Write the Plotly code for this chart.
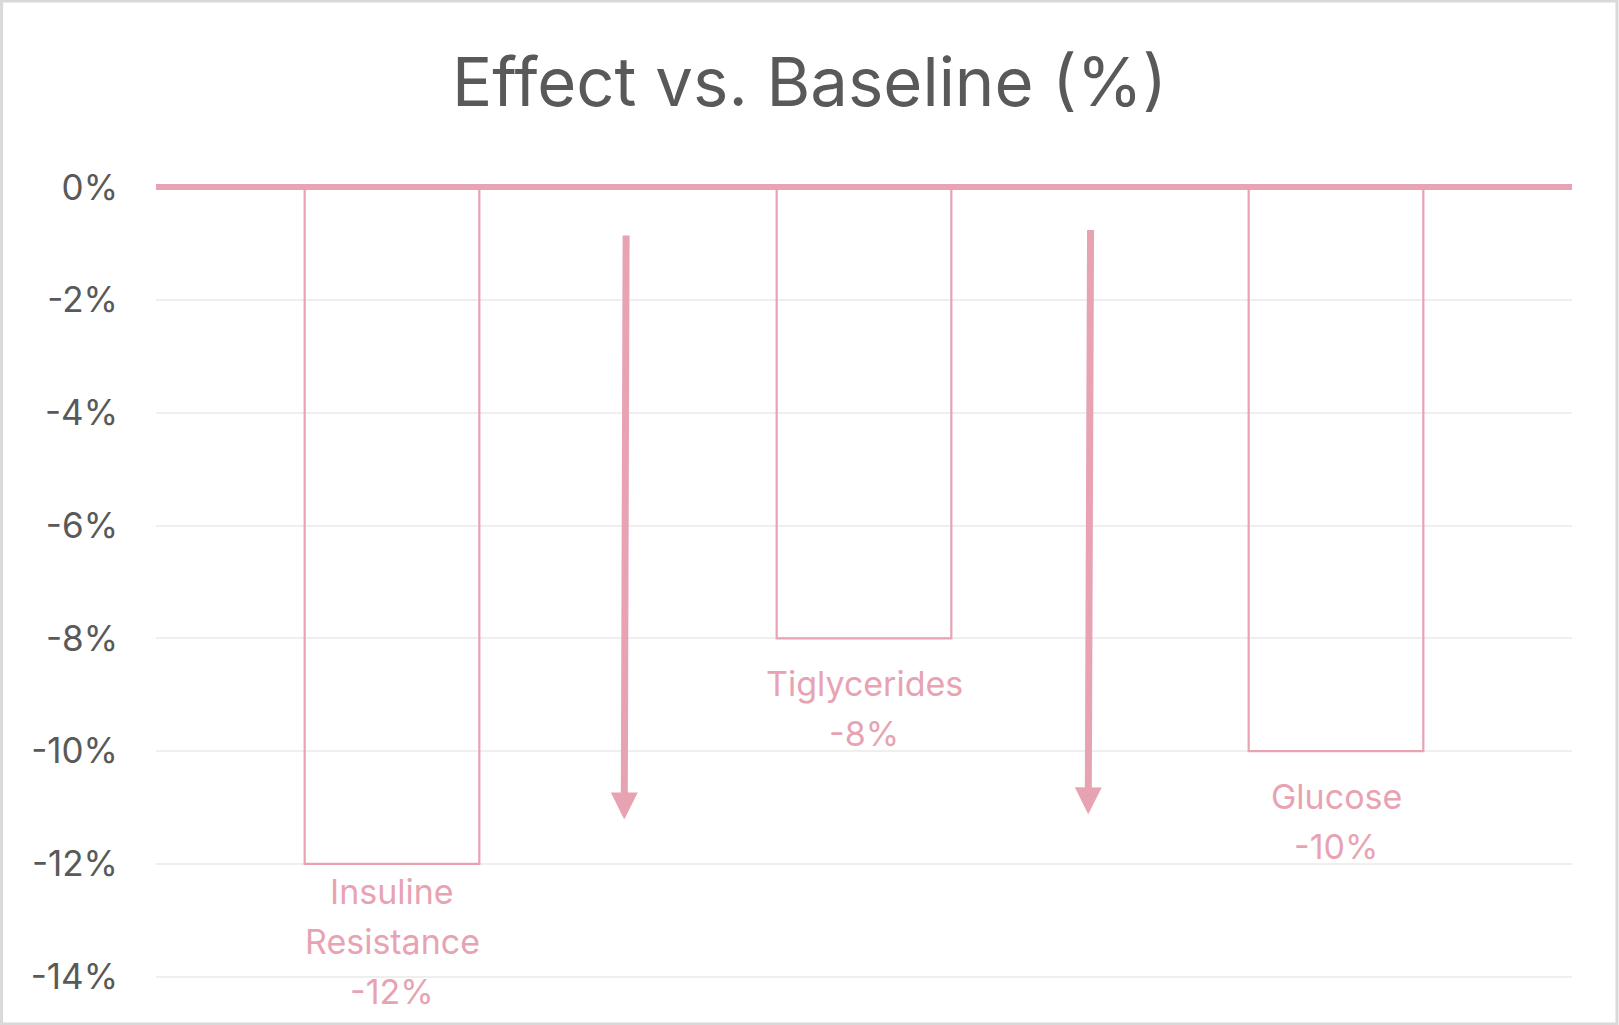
import plotly.graph_objects as go

# ---- data ----
categories = ["Insuline<br>Resistance", "Tiglycerides", "Glucose"]
values = [-12, -8, -10]
value_labels = ["-12%", "-8%", "-10%"]
tick_vals = [0, -2, -4, -6, -8, -10, -12, -14]
tick_text = ["0%", "-2%", "-4%", "-6%", "-8%", "-10%", "-12%", "-14%"]

# decorative downward arrows (data coordinates)
arrow_tail_x = [0.496, 1.480]
arrow_tail_y = [-0.83, -0.73]
arrow_head_x = [0.492, 1.475]
arrow_head_y = [-11.21, -11.12]

# per-label vertical offset (px) below bar end
label_shift = [-5, -23, -23]

# ---- style ----
W, H = 1619, 1025
ML, MR, MT, MB = 156, 46.5, 176.4, 37.4
PINK = "#E8A3B3"
GREY_TXT = "#595959"
FONT = "Inter"
LINE_GAP = 50

x_idx = list(range(len(categories)))

fig = go.Figure()
fig.add_trace(go.Bar(
    x=x_idx, y=values, width=0.37,
    marker=dict(color="rgba(255,255,255,0)", line=dict(color=PINK, width=2.2)),
    hoverinfo="skip", showlegend=False,
))

annotations = []
for xi, cat, v, lab, sh in zip(x_idx, categories, values, value_labels, label_shift):
    lines = cat.split("<br>") + [lab]
    for j, line in enumerate(lines):
        annotations.append(dict(
            x=xi, y=v, xref="x", yref="y", text=line,
            showarrow=False, yanchor="top", xanchor="center", yshift=sh - j * LINE_GAP,
            font=dict(family=FONT, size=34, color=PINK), align="center",
        ))
for tx, ty, hx, hy in zip(arrow_tail_x, arrow_tail_y, arrow_head_x, arrow_head_y):
    annotations.append(dict(
        x=hx, y=hy, ax=tx, ay=ty, xref="x", yref="y", axref="x", ayref="y",
        text="", showarrow=True, arrowhead=2, arrowsize=0.77, arrowwidth=7,
        arrowcolor=PINK,
    ))

pw = W - ML - MR
ph = H - MT - MB
fig.add_shape(
    type="rect", xref="paper", yref="paper",
    x0=(1.5 - ML) / pw, x1=(W - 1.5 - ML) / pw,
    y0=-(MB - 1.5) / ph, y1=(H - 1.5 - MB) / ph,
    line=dict(color="#D9D9D9", width=3), fillcolor="rgba(0,0,0,0)", layer="above",
)

TITLE_SIZE = 67
fig.update_layout(
    width=W, height=H,
    margin=dict(l=ML, r=MR, t=MT, b=MB, pad=0),
    paper_bgcolor="white", plot_bgcolor="white",
    title=dict(text="Effect vs. Baseline (%)", x=0.5, xref="container", xanchor="center",
               y=1 - (106 - 0.35 * TITLE_SIZE) / H, yref="container", yanchor="middle",
               font=dict(family=FONT, size=TITLE_SIZE, color=GREY_TXT)),
    xaxis=dict(range=[-0.5, 2.5], showticklabels=False, showgrid=False, zeroline=False,
               showline=False, fixedrange=True),
    yaxis=dict(range=[-14.2, 0.2], tickvals=tick_vals, ticktext=tick_text,
               tickfont=dict(family=FONT, size=35, color=GREY_TXT),
               showgrid=True, gridcolor="#EFEFEF", gridwidth=2,
               zeroline=True, zerolinecolor=PINK, zerolinewidth=6,
               showline=False, ticklabelstandoff=37),
    annotations=annotations,
    bargap=0.63,
)

fig.write_html("out.html", config={"displayModeBar": False},
               post_script="document.body.style.margin='0px';")
